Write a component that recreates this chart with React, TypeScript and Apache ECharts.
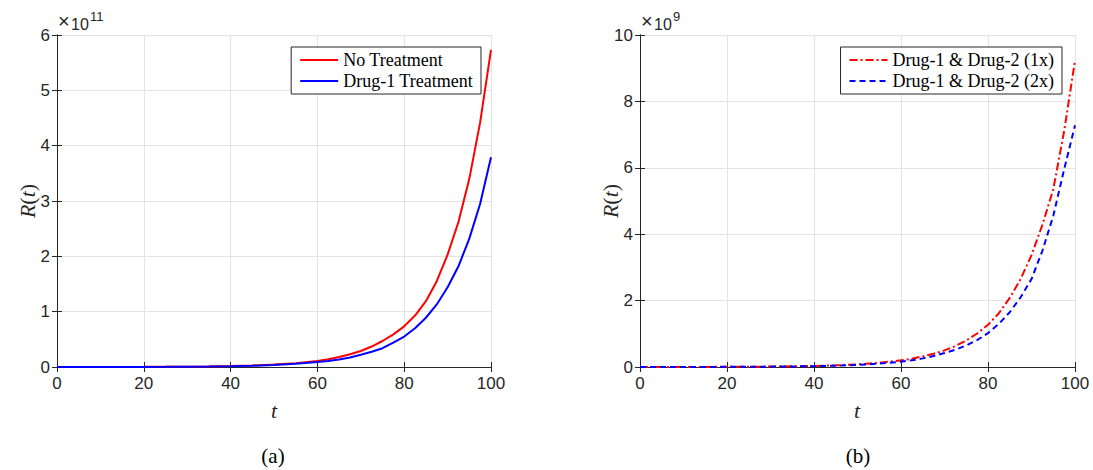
import React, { useEffect, useRef } from "react";
import * as echarts from "echarts";

// time samples
const tVals = [0, 5, 10, 15, 20, 25, 30, 35, 40, 45, 50, 55, 60, 62.5, 65, 67.5, 70, 72.5, 75, 77.5, 80, 82.5, 85, 87.5, 90, 92.5, 95, 97.5, 100];

// (a) values in units of 1e11
const noTreatment = [0.0004, 0.0006, 0.001, 0.0015, 0.0025, 0.004, 0.006, 0.01, 0.017, 0.027, 0.043, 0.07, 0.11, 0.14, 0.18, 0.23, 0.29, 0.37, 0.47, 0.59, 0.735, 0.93, 1.19, 1.55, 2.03, 2.62, 3.4, 4.42, 5.73];
const drug1Treatment = [0.0003, 0.0005, 0.0008, 0.0013, 0.002, 0.0035, 0.0055, 0.009, 0.014, 0.023, 0.036, 0.057, 0.09, 0.11, 0.135, 0.17, 0.22, 0.275, 0.34, 0.44, 0.55, 0.7, 0.89, 1.13, 1.44, 1.82, 2.32, 2.95, 3.79];

// (b) values in units of 1e9
const combo1x = [0.0008, 0.0012, 0.002, 0.003, 0.005, 0.008, 0.012, 0.02, 0.032, 0.05, 0.08, 0.125, 0.2, 0.25, 0.32, 0.4, 0.5, 0.63, 0.8, 1.01, 1.27, 1.62, 2.08, 2.65, 3.37, 4.28, 5.35, 7.1, 9.23];
const combo2x = [0.0006, 0.001, 0.0015, 0.0025, 0.004, 0.006, 0.01, 0.016, 0.025, 0.04, 0.063, 0.1, 0.16, 0.2, 0.26, 0.33, 0.42, 0.52, 0.65, 0.81, 1.02, 1.3, 1.65, 2.1, 2.65, 3.5, 4.55, 5.95, 7.28];

const namesA = ["No Treatment", "Drug-1 Treatment"];
const namesB = ["Drug-1 & Drug-2 (1x)", "Drug-1 & Drug-2 (2x)"];
const expA = "11";
const expB = "9";

const SANS = "'Liberation Sans', Arial, Helvetica, sans-serif";
const SERIF = "'Liberation Serif', 'Times New Roman', serif";
const AX = "#262626";

function pairs(vals: number[]) {
  return tVals.map((t, i) => [t, vals[i]]);
}

function xAxes(gi: number) {
  const base = {
    gridIndex: gi, type: "value" as const, min: 0, max: 100, interval: 20,
    axisLine: { show: true, lineStyle: { color: AX, width: 1 } },
    axisTick: { show: true, inside: true, length: 5, lineStyle: { color: AX } },
  };
  return [
    { ...base, position: "bottom",
      axisLabel: { fontFamily: SANS, fontSize: 17, color: AX, margin: 8 },
      splitLine: { show: true, lineStyle: { color: "#e3e3e3", width: 1 } } },
    { ...base, position: "top", axisLabel: { show: false }, splitLine: { show: false } },
  ];
}
function yAxes(gi: number, max: number, interval: number) {
  const base = {
    gridIndex: gi, type: "value" as const, min: 0, max, interval,
    axisLine: { show: true, lineStyle: { color: AX, width: 1 } },
    axisTick: { show: true, inside: true, length: 5, lineStyle: { color: AX } },
  };
  return [
    { ...base, position: "left",
      axisLabel: { fontFamily: SANS, fontSize: 17, color: AX, margin: 7 },
      splitLine: { show: true, lineStyle: { color: "#e3e3e3", width: 1 } } },
    { ...base, position: "right", axisLabel: { show: false }, splitLine: { show: false } },
  ];
}

function legendCfg(data: string[], right: number) {
  return {
    data, right, top: 47, orient: "vertical",
    borderColor: AX, borderWidth: 1, backgroundColor: "#fff",
    padding: [4, 8, 4, 8], itemGap: 3, itemWidth: 38, itemHeight: 14,
    itemStyle: { opacity: 0 },
    textStyle: { fontFamily: SERIF, fontSize: 18, color: "#000" },
  };
}

function labelText(x: number, y: number, rot = 0) {
  return {
    type: "text", x, y, rotation: rot,
    style: {
      text: "{i|R}{n|(}{i|t}{n|)}", x: 0, y: 0, align: "center", verticalAlign: "middle",
      rich: {
        i: { fontFamily: SERIF, fontStyle: "italic", fontSize: 22, fill: AX },
        n: { fontFamily: SERIF, fontSize: 22, fill: AX },
      },
    },
  };
}

function multiplier(x0: number, exp: string) {
  return [
    { type: "text", x: x0 + 1, y: 31, style: { text: "×", fontFamily: SANS, fontSize: 20, fill: AX, verticalAlign: "bottom", align: "left" } },
    { type: "text", x: x0 + 14, y: 32, style: { text: "10", fontFamily: SANS, fontSize: 16, fill: AX, verticalAlign: "bottom", align: "left" } },
    { type: "text", x: x0 + 33, y: 23, style: { text: exp, fontFamily: SANS, fontSize: 13, fill: AX, verticalAlign: "bottom", align: "left" } },
  ];
}

export default function App() {
  const ref = useRef<HTMLDivElement>(null);
  useEffect(() => {
    if (!ref.current) return;
    const chart = echarts.init(ref.current, undefined, { renderer: "svg" });
    const option: any = {
      animation: false,
      backgroundColor: "#fff",
      grid: [
        { left: 57, top: 35, width: 434, height: 332 },
        { left: 640, top: 35, width: 435, height: 332 },
      ],
      xAxis: [...xAxes(0), ...xAxes(1)],
      yAxis: [...yAxes(0, 6, 1), ...yAxes(1, 10, 2)],
      legend: [legendCfg(namesA, 612), legendCfg(namesB, 31)],
      series: [
        { name: namesA[0], type: "line", xAxisIndex: 0, yAxisIndex: 0, data: pairs(noTreatment), symbol: "none", showSymbol: false,
          lineStyle: { color: "#ff0000", width: 2 }, itemStyle: { color: "#ff0000" } },
        { name: namesA[1], type: "line", xAxisIndex: 0, yAxisIndex: 0, data: pairs(drug1Treatment), symbol: "none", showSymbol: false,
          lineStyle: { color: "#0000ff", width: 2 }, itemStyle: { color: "#0000ff" } },
        { name: namesB[0], type: "line", xAxisIndex: 2, yAxisIndex: 2, data: pairs(combo1x), symbol: "none", showSymbol: false,
          lineStyle: { color: "#ff0000", width: 2, type: [8, 3, 2, 3] }, itemStyle: { color: "#ff0000" } },
        { name: namesB[1], type: "line", xAxisIndex: 2, yAxisIndex: 2, data: pairs(combo2x), symbol: "none", showSymbol: false,
          lineStyle: { color: "#0000ff", width: 2, type: [6, 4] }, itemStyle: { color: "#0000ff" } },
      ],
      graphic: [
        ...multiplier(57, expA),
        ...multiplier(640, expB),
        labelText(27, 201, Math.PI / 2),
        labelText(610, 201, Math.PI / 2),
        { type: "text", x: 274, y: 410, style: { text: "t", fontFamily: SERIF, fontStyle: "italic", fontSize: 22, fill: AX, align: "center", verticalAlign: "middle" } },
        { type: "text", x: 857, y: 410, style: { text: "t", fontFamily: SERIF, fontStyle: "italic", fontSize: 22, fill: AX, align: "center", verticalAlign: "middle" } },
        { type: "text", x: 273, y: 456, style: { text: "(a)", fontFamily: SERIF, fontSize: 21, fill: "#000", align: "center", verticalAlign: "middle" } },
        { type: "text", x: 858, y: 456, style: { text: "(b)", fontFamily: SERIF, fontSize: 21, fill: "#000", align: "center", verticalAlign: "middle" } },
      ],
    };
    chart.setOption(option);
    return () => chart.dispose();
  }, []);
  return <div ref={ref} style={{ position: "absolute", left: 0, top: 0, width: 1093, height: 470, background: "#fff" }} />;
}
